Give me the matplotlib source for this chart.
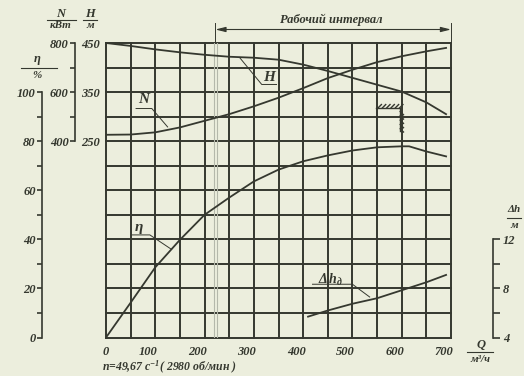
import numpy as np
import matplotlib
matplotlib.use('Agg')
import matplotlib.pyplot as plt
import matplotlib.patheffects as pe
from matplotlib.lines import Line2D
from matplotlib.ticker import FixedLocator
from matplotlib.transforms import ScaledTranslation

# pump characteristic
q_h = [0, 50, 100, 150, 200, 250, 300, 350, 400, 450, 500, 550, 600, 650, 690]
head = [450, 444, 437, 431, 426, 422, 420, 416, 406, 393, 379, 365, 351, 329, 305]

q_n = [0, 50, 100, 150, 200, 250, 300, 350, 400, 450, 500, 550, 600, 650, 690]
power = [426, 427, 436, 456, 483, 510, 542, 577, 616, 657, 691, 722, 746, 766, 780]

q_eta = [0, 50, 100, 150, 200, 250, 300, 350, 400, 450, 500, 550, 600, 615, 650, 690]
eff = [0, 14.2, 28.6, 39.8, 50, 57, 63.6, 68.4, 71.8, 74.2, 76.2, 77.5, 77.9, 77.9, 75.8, 73.8]

q_dh = [410, 450, 500, 550, 600, 650, 690]
npsh = [5.7, 6.2, 6.75, 7.2, 7.85, 8.5, 9.1]

q_ticks = [0, 100, 200, 300, 400, 500, 600, 700]
eta_ticks = [0, 20, 40, 60, 80, 100]
n_ticks = [400, 500, 600, 700, 800]
h_ticks = [250, 350, 450]
dh_ticks = [4, 6, 8, 10, 12]

work_start = 222   # start of working interval, m3/h
work_end = 700

W, H = 524, 376
ink = '#35382f'
paper = '#eceedd'

plt.rcParams['font.family'] = ['Liberation Serif', 'DejaVu Serif']
plt.rcParams['font.style'] = 'italic'
plt.rcParams['font.weight'] = 'bold'
plt.rcParams['mathtext.fontset'] = 'custom'
plt.rcParams['mathtext.rm'] = 'Liberation Serif:italic:bold'
plt.rcParams['mathtext.it'] = 'Liberation Serif:italic:bold'
plt.rcParams['text.color'] = ink

fig = plt.figure(figsize=(W / 100, H / 100), dpi=100, facecolor=paper)
ax = fig.add_axes([106 / W, 1 - 337.5 / H, 345 / W, 294.5 / H])
ax.set_facecolor(paper)
ax.set_xlim(0, 700)
ax.set_ylim(0, 120)

# grid
for q in np.arange(0, 701, 50):
    ax.axvline(q, color=ink, lw=1.4, clip_on=False, zorder=1)
for e in np.arange(0, 121, 10):
    ax.axhline(e, color=ink, lw=1.4, clip_on=False, zorder=1)
# start of working interval (thin grey line through the grid)
ax.axvline(work_start - 3, color='#b4b8aa', lw=0.8, zorder=1.5)
ax.axvline(work_start + 3, color='#b4b8aa', lw=0.8, zorder=1.5)

for s in ['top', 'right', 'bottom']:
    ax.spines[s].set_visible(False)
ax.spines['left'].set_position(('axes', -64 / 345))
ax.spines['left'].set_bounds(0, 100)
ax.spines['left'].set_color(ink)
ax.spines['left'].set_linewidth(1.2)
ax.set_yticks(eta_ticks)
ax.yaxis.set_minor_locator(FixedLocator([10, 30, 50, 70, 90]))
ax.tick_params(axis='y', which='both', direction='out', length=3.6, width=1.2,
               color=ink, pad=1, labelsize=9, labelcolor=ink)
ax.set_xticks(q_ticks)
ax.tick_params(axis='x', length=0, pad=6, labelsize=9, labelcolor=ink)
for lbl in ax.get_xticklabels()[1:]:
    lbl.set_transform(lbl.get_transform() + ScaledTranslation(-0.07, 0, fig.dpi_scale_trans))

# power axis
axN = ax.twinx()
axN.set_ylim(-400, 800)
axN.yaxis.set_ticks_position('left')
for s in ['top', 'right', 'bottom']:
    axN.spines[s].set_visible(False)
axN.spines['left'].set_position(('axes', -31 / 345))
axN.spines['left'].set_bounds(400, 800)
axN.spines['left'].set_color(ink)
axN.spines['left'].set_linewidth(1.2)
axN.set_yticks(n_ticks)
axN.set_yticklabels([str(v) if v % 200 == 0 else '' for v in n_ticks])
axN.tick_params(axis='y', direction='out', length=3.6, width=1.2, color=ink,
                pad=1, labelsize=9, labelcolor=ink)

# head axis
axH = ax.twinx()
axH.set_ylim(-150, 450)
axH.yaxis.set_ticks_position('left')
for s in axH.spines.values():
    s.set_visible(False)
axH.set_yticks(h_ticks)
axH.tick_params(axis='y', length=0, pad=4.3, labelsize=9, labelcolor=ink)

# NPSH axis
axD = ax.twinx()
axD.set_ylim(4, 28)
for s in ['top', 'left', 'bottom']:
    axD.spines[s].set_visible(False)
axD.spines['right'].set_position(('axes', 1 + 42 / 345))
axD.spines['right'].set_bounds(4, 12)
axD.spines['right'].set_color(ink)
axD.spines['right'].set_linewidth(1.2)
axD.set_yticks(dh_ticks)
axD.set_yticklabels([str(v) if v % 4 == 0 else '' for v in dh_ticks])
axD.tick_params(axis='y', direction='out', length=5, width=1.2, color=ink,
                pad=2, labelsize=9, labelcolor=ink)

# curves
axH.plot(q_h, head, color=ink, lw=1.3, zorder=3)
axN.plot(q_n, power, color=ink, lw=1.3, zorder=3)
ax.plot(q_eta, eff, color=ink, lw=1.3, zorder=3)
axD.plot(q_dh, npsh, color=ink, lw=1.3, zorder=3)

# limit mark
axH.plot([548, 597, 597], [318, 318, 271], color=ink, lw=1.0,
         path_effects=[pe.withTickedStroke(angle=45, spacing=3, length=1.1)])

# curve labels with leaders
lk = dict(color=ink, lw=0.7, zorder=4)
ax.text(330, 106, 'H', ha='center', va='center', fontsize=11)
ax.plot([271, 316, 346], [114.1, 103.1, 103.1], **lk)
ax.text(77, 97, 'N', ha='center', va='center', fontsize=11)
ax.plot([61, 93, 125], [93.3, 93.3, 85.8], **lk)
ax.text(67, 44.7, 'η', ha='center', va='center', fontsize=11)
ax.plot([53, 89, 133], [41.8, 41.8, 35.9], **lk)
ax.text(455, 23.6, r'$\Delta\,h_{д}$', ha='center', va='center', fontsize=10)
ax.plot([419, 500, 535], [21.7, 21.7, 16.5], **lk)

# working interval
ax.annotate('', xy=(work_start, 125.5), xytext=(work_end, 125.5),
            arrowprops=dict(arrowstyle='<|-|>,head_length=0.6,head_width=0.15',
                            color=ink, lw=0.8, shrinkA=0, shrinkB=0,
                            mutation_scale=10), annotation_clip=False)
ax.plot([work_start, work_start], [120, 128], color=ink, lw=0.7, clip_on=False)
ax.plot([work_end, work_end], [120, 128], color=ink, lw=0.7, clip_on=False)
ax.text(457, 129.4, 'Рабочий интервал', ha='center', va='center', fontsize=9,
        clip_on=False)


def ftxt(x, y, s, size=9, ha='center'):
    fig.text(x / W, 1 - y / H, s, ha=ha, va='center', fontsize=size, color=ink)


def fline(x1, x2, y):
    fig.add_artist(Line2D([x1 / W, x2 / W], [1 - y / H, 1 - y / H], color=ink, lw=0.8))


ftxt(61, 14, 'N')
fline(47, 76, 20)
ftxt(61, 26, 'кВт', 8)
ftxt(90, 14, 'H')
fline(83, 97, 20)
ftxt(90, 26, 'м', 8)
ftxt(37, 59, 'η')
fline(21, 57, 68)
ftxt(37, 75, '%', 8)
ftxt(514, 210, 'Δh', 8)
fline(507, 521, 218)
ftxt(514, 225, 'м', 8)
ftxt(481, 345, 'Q')
fline(467, 493, 352)
ftxt(480, 360, 'м³/ч', 8)
ftxt(102, 367, 'n=49,67 с$^{-1}$( 2980 об/мин )', 8.5, ha='left')

fig.savefig('out.png', dpi=100, facecolor=paper)
